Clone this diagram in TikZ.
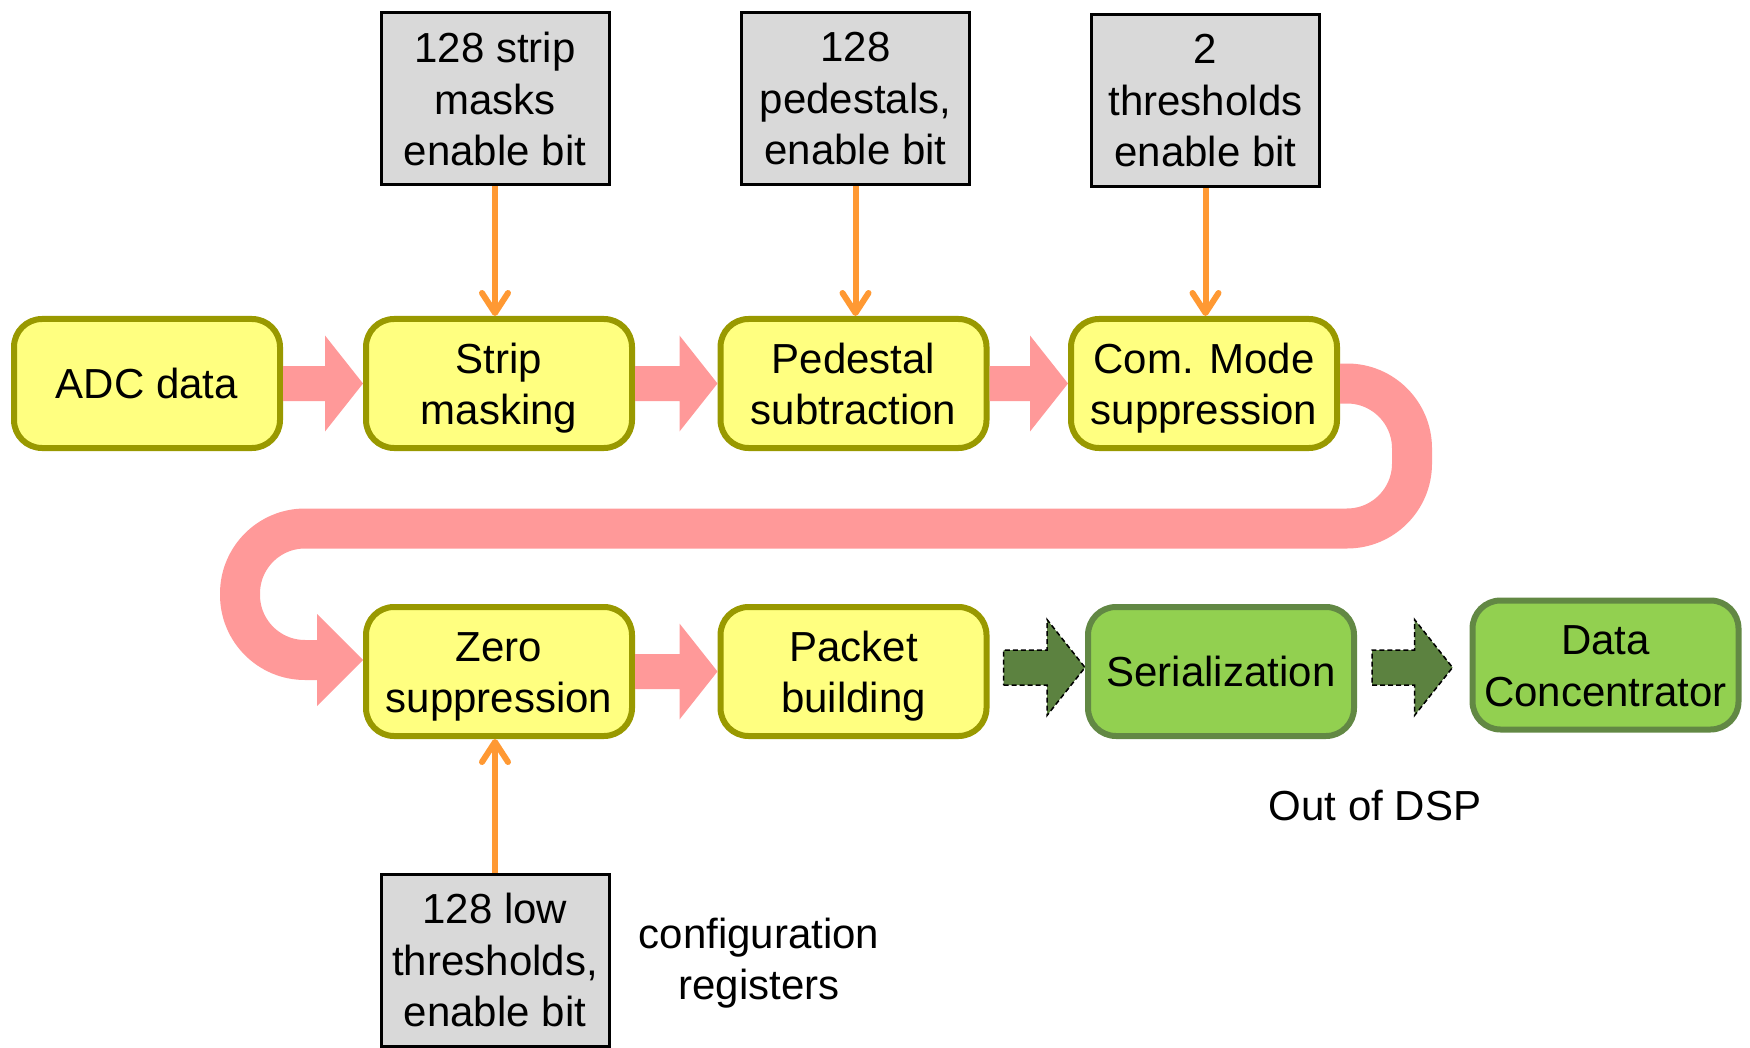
\documentclass[tikz,border=0pt]{standalone}
\usepackage{fontspec}
\setmainfont{Liberation Sans}
\usetikzlibrary{arrows.meta,calc}
\definecolor{yfill}{RGB}{255,255,128}
\definecolor{yborder}{RGB}{153,153,0}
\definecolor{pinkc}{RGB}{255,153,153}
\definecolor{grayfill}{RGB}{217,217,217}
\definecolor{orangec}{RGB}{255,153,51}
\definecolor{gfill}{RGB}{146,208,80}
\definecolor{gborder}{RGB}{98,136,68}
\definecolor{garrowc}{RGB}{92,130,64}
\newcommand{\bigfont}{\fontsize{42}{51.5}\selectfont}
% block arrow: #1 style, #2 start point, #3 tip point (horizontal)
\newcommand{\blockarr}[3]{%
  \draw[#1] ($(#2)+(0,17.5)$) -- ($(#3)+(-38,17.5)$) -- ($(#3)+(-38,48)$) -- (#3)
    -- ($(#3)+(-38,-48)$) -- ($(#3)+(-38,-17.5)$) -- ($(#2)+(0,-17.5)$) -- cycle;}
\begin{document}
\begin{tikzpicture}[x=1pt,y=-1pt,
  ybox/.style={draw=yborder, fill=yfill, line width=6pt, rounded corners=28pt,
    minimum width=266pt, minimum height=129pt, inner sep=0pt, align=center, font=\bigfont,
    text height=30.6pt, text depth=0pt},
  twoline/.style={text height=82.1pt},
  gbox/.style={ybox, draw=gborder, fill=gfill},
  regbox/.style={draw=black, fill=grayfill, line width=3pt, minimum width=228pt,
    minimum height=172pt, inner sep=0pt, align=center, font=\bigfont},
  pinkarr/.style={fill=pinkc, draw=none},
  darkarr/.style={fill=garrowc, draw=black, line width=1.5pt, dash pattern=on 5pt off 3pt},
  cfgarr/.style={draw=orangec, line width=6pt, -{Straight Barb[length=20pt,width=26pt,round]}},
  band/.style={draw=pinkc, line width=40pt, rounded corners=65pt},
  lbl/.style={align=center, font=\bigfont, inner sep=0pt}]
\useasboundingbox (0,0) rectangle (1750,1048);

% processing blocks
\node[ybox] (adc)    at (147,383.5)   {ADC data};
\node[ybox,twoline] (strip)  at (499,383.5)   {Strip\\masking};
\node[ybox,twoline] (ped)    at (853.5,383.5) {Pedestal\\subtraction};
\node[ybox,twoline] (com)    at (1204,383.5)  {Com. Mode\\suppression};
\node[ybox,twoline] (zero)   at (499,671.5)   {Zero\\suppression};
\node[ybox,twoline] (packet) at (853.5,671.5) {Packet\\building};
\node[gbox] (serial) at (1221,671.5)  {Serialization};
\node[gbox,twoline] (dc)     at (1605.5,665)  {Data\\Concentrator};

% configuration registers
\node[regbox] (m1) at (495,99)    {128 strip\\masks\\enable bit};
\node[regbox] (m2) at (855.5,99)  {128\\pedestals,\\enable bit};
\node[regbox] (m3) at (1205.5,101) {2\\thresholds\\enable bit};
\node[regbox] (m4) at (495,960)   {128 low\\thresholds,\\enable bit};

\node[lbl] (cfg) at (759,963) {configuration\\registers};
\node[lbl] (dsp) at (1375,806) {Out of DSP};

% orange configuration arrows
\draw[cfgarr] (m1.south) -- (m1.south |- strip.north);
\draw[cfgarr] (m2.south) -- (m2.south |- ped.north);
\draw[cfgarr] (m3.south) -- (m3.south |- com.north);
\draw[cfgarr] (m4.north) -- (m4.north |- zero.south);

% pink data-flow arrows
\blockarr{pinkarr}{adc.east}{strip.west}
\blockarr{pinkarr}{strip.east}{ped.west}
\blockarr{pinkarr}{ped.east}{com.west}
\blockarr{pinkarr}{zero.east}{packet.west}

% U-shaped band from Com. Mode to Zero suppression
\coordinate (ztip) at ([yshift=11.5pt]zero.west);
\coordinate (zbase) at ($(ztip)+(-46,0)$);
\draw[band] (com.east) -- (1412,383.5) -- (1412,528.5) -- (240,528.5) -- (240,660) -- (zbase);
\fill[pinkc] ($(zbase)+(0,-46)$) -- (ztip) -- ($(zbase)+(0,46)$) -- cycle;

% dark green arrows (out of DSP)
\coordinate (g1s) at ([xshift=14pt,yshift=4pt]packet.east);
\coordinate (g1t) at (serial.west |- g1s);
\coordinate (g2s) at ([xshift=15pt,yshift=4pt]serial.east);
\coordinate (g2t) at ($(dc.west |- g2s)+(-17,0)$);
\blockarr{darkarr}{g1s}{g1t}
\blockarr{darkarr}{g2s}{g2t}
\end{tikzpicture}
\end{document}
